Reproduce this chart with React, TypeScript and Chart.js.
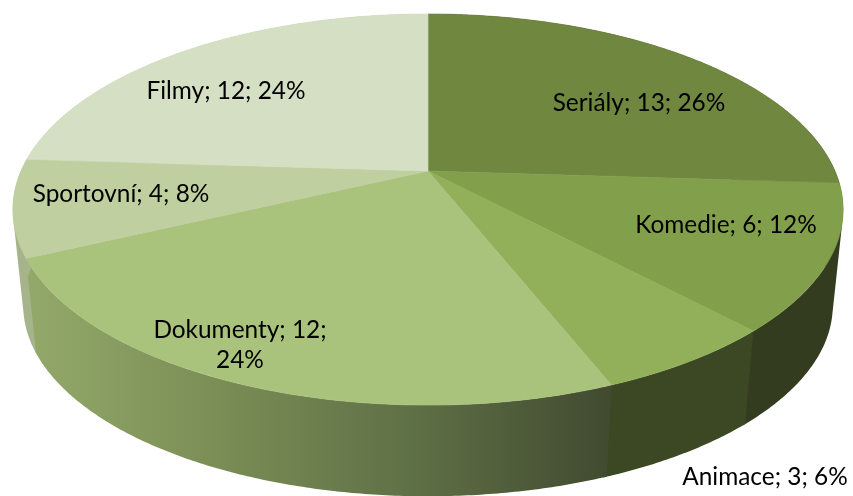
import React, { useEffect, useRef } from "react";
import { Chart, registerables } from "chart.js";

Chart.register(...registerables);

const categories = ["Seriály", "Komedie", "Animace", "Dokumenty", "Sportovní", "Filmy"];
const values = [13, 6, 3, 12, 4, 12];
const percents = [26, 12, 6, 24, 8, 24];

const topColors = ["#70873F", "#82A04C", "#92B05A", "#A9C27C", "#BFCFA0", "#D5DFC3"];
const wallColors = ["#343C20", "#343C20", "#3C4723", "gradient", "#A6B48C", "#B9C4A4"];

// Where each label's text sits, and how it wraps
const labelCentres: [number, number][] = [
  [639, 103], [726, 225], [765, 477], [240, 330], [121, 194], [226, 91],
];
const labelBreaks = [false, false, false, true, false, false];

const CX = 428, CY = 171, A = 407, B = 188, P = 0.197, BASE_CY = 268, BASE_S = 0.975;

const rim = (theta: number, base: boolean): [number, number] => {
  const u = Math.cos(theta), v = Math.sin(theta), w = 1 - P * v;
  return base
    ? [CX + BASE_S * A * u / w, BASE_CY + BASE_S * B * v / w]
    : [CX + A * u / w, CY + B * v / w];
};

const STEP = Math.PI / 360;
const WALL_OVERLAP = 0.008;

const signedArea = (pts: [number, number][]) =>
  pts.reduce((s, [x, y], i) => {
    const [nx, ny] = pts[(i + 1) % pts.length];
    return s + x * ny - nx * y;
  }, 0);

const pie3d = {
  id: "pie3d",
  beforeDatasetsDraw(chart: any) {
    const { ctx } = chart;
    const arcs = chart.getDatasetMeta(0).data as any[];
    const wallGrad = ctx.createLinearGradient(26, 0, 612, 0);
    wallGrad.addColorStop(0, "#93A96A");
    wallGrad.addColorStop(0.3, "#7D9057");
    wallGrad.addColorStop(0.65, "#5F7146");
    wallGrad.addColorStop(1, "#414A30");

    ctx.save();
    ctx.lineWidth = 0.6;
    ctx.lineJoin = "round";
    // side walls: quads of one winding in a single path, so the fold at the silhouette stays filled
    arcs.forEach((arc, i) => {
      const a0 = arc.startAngle;
      const a1 = arc.endAngle + WALL_OVERLAP;
      const n = Math.max(2, Math.ceil((a1 - a0) / STEP));
      const path = new Path2D();
      for (let k = 0; k < n; k++) {
        const t0 = a0 + ((a1 - a0) * k) / n;
        const t1 = a0 + ((a1 - a0) * (k + 1)) / n;
        let pts: [number, number][] = [rim(t0, false), rim(t1, false), rim(t1, true), rim(t0, true)];
        if (signedArea(pts) < 0) pts = pts.reverse();
        pts.forEach(([x, y], j) => (j === 0 ? path.moveTo(x, y) : path.lineTo(x, y)));
        path.closePath();
      }
      const c = wallColors[i] === "gradient" ? wallGrad : wallColors[i];
      ctx.fillStyle = c;
      ctx.fill(path);
    });
    // top faces
    arcs.forEach((arc, i) => {
      const { startAngle: a0, endAngle: a1 } = arc;
      const n = Math.max(2, Math.ceil((a1 - a0) / STEP));
      const path = new Path2D();
      path.moveTo(CX, CY);
      for (let k = 0; k <= n; k++) {
        const [x, y] = rim(a0 + ((a1 - a0) * k) / n, false);
        path.lineTo(x, y);
      }
      path.closePath();
      ctx.fillStyle = topColors[i];
      ctx.strokeStyle = topColors[i];
      ctx.fill(path);
      ctx.stroke(path);
    });
    // labels
    ctx.fillStyle = "#000000";
    ctx.font = '24.4px Lato, "Noto Sans", sans-serif';
    ctx.textAlign = "center";
    ctx.textBaseline = "middle";
    categories.forEach((name, i) => {
      const [x, y] = labelCentres[i];
      if (labelBreaks[i]) {
        ctx.fillText(`${name}; ${values[i]};`, x, y);
        ctx.fillText(`${percents[i]}%`, x, y + 30);
      } else {
        ctx.fillText(`${name}; ${values[i]}; ${percents[i]}%`, x, y);
      }
    });
    ctx.restore();
    return false;
  },
};

export default function App() {
  const ref = useRef<HTMLCanvasElement>(null);
  useEffect(() => {
    const chart = new Chart(ref.current!, {
      type: "pie",
      data: {
        labels: categories,
        datasets: [{ data: values, backgroundColor: topColors, borderWidth: 0 }],
      },
      options: {
        animation: false,
        responsive: false,
        plugins: { legend: { display: false }, tooltip: { enabled: false } },
      },
      plugins: [pie3d],
    });
    return () => chart.destroy();
  }, []);
  return (
    <canvas
      ref={ref}
      width={853}
      height={496}
      style={{ position: "absolute", left: 0, top: 0, display: "block" }}
    />
  );
}
